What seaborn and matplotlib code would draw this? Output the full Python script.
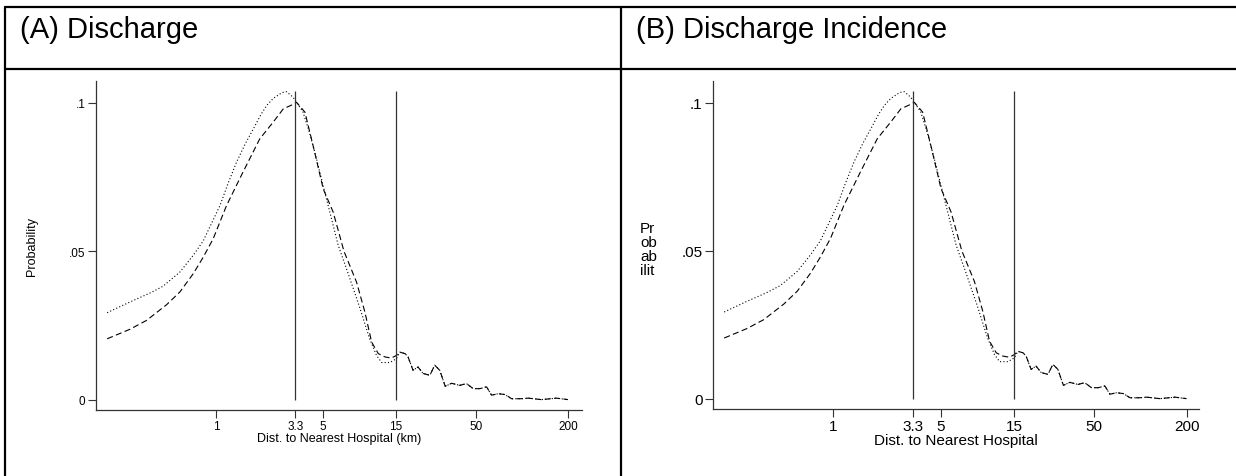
import numpy as np
import pandas as pd
import seaborn as sns
import matplotlib.pyplot as plt
from matplotlib.lines import Line2D

# ---- data (km, probability) ----
dist_dot = [0.194, 0.273, 0.369, 0.449, 0.580, 0.708, 0.824, 1.06, 1.20, 1.36, 1.55, 1.75, 1.96, 2.14, 2.36, 2.61, 2.75, 2.89,
            3.19, 3.36, 3.70, 4.07, 4.54, 5.02, 5.69, 6.29, 7.25, 8.6, 10.1, 11.2, 12.1, 13.7, 15.1]
prob_dot = [0.0293, 0.0329, 0.0359, 0.0382, 0.0430, 0.0486, 0.0535, 0.0654, 0.0730, 0.0800, 0.0862, 0.0912, 0.0960, 0.0991, 0.1015, 0.1030, 0.1036, 0.1038,
            0.1019, 0.1002, 0.0970, 0.0902, 0.0811, 0.0720, 0.0609, 0.0520, 0.0430, 0.0318, 0.0205, 0.0149, 0.0125, 0.0125, 0.0138]

dist_dash = [0.194, 0.273, 0.351, 0.475, 0.580, 0.708, 0.824, 0.957, 1.17, 1.50, 1.93, 2.36, 2.75,
             3.12, 3.36, 3.81, 4.31, 5.02, 5.83, 6.86, 8.29, 9.4, 10.4, 11.5, 12.7, 14.0, 15.1]
prob_dash = [0.0205, 0.0237, 0.0267, 0.0320, 0.0363, 0.0424, 0.0480, 0.0542, 0.0654, 0.0767, 0.0879, 0.0935, 0.0980,
             0.0993, 0.1002, 0.0969, 0.0856, 0.0710, 0.0632, 0.0500, 0.0396, 0.0295, 0.0194, 0.0155, 0.0144, 0.0140, 0.0149]

# both curves run together past 15 km
dist_tail = [15.9, 17.2, 18.0, 19.4, 20.9, 22.6, 25.0, 26.9, 29.0, 31.5, 34.7, 39.2, 43.4, 48.0,
             53.1, 58.7, 63.3, 70, 77.6, 85.6, 99, 110, 134, 168, 200]
prob_tail = [0.0160, 0.0155, 0.0144, 0.0099, 0.0110, 0.0088, 0.0082, 0.0116, 0.0099, 0.0045, 0.0055, 0.0048, 0.0054, 0.0037,
             0.0037, 0.0043, 0.0015, 0.0020, 0.0017, 0.0003, 0.0003, 0.0005, 0.0000, 0.0005, 0.0000]

xticks = [1, 3.3, 5, 15, 50, 200]
xticklabels = ['1', '3.3', '5', '15', '50', '200']
yticks = [0, 0.05, 0.1]
yticklabels = ['0', '.05', '.1']
cutoffs = [3.3, 15]

df = pd.concat([
    pd.DataFrame({'dist': dist_dot + dist_tail, 'prob': prob_dot + prob_tail, 'series': 'dot'}),
    pd.DataFrame({'dist': dist_dash + dist_tail, 'prob': prob_dash + prob_tail, 'series': 'dash'}),
])

sns.set_style('ticks')
plt.rcParams['font.family'] = ['Liberation Sans', 'DejaVu Sans']
plt.rcParams['text.color'] = 'black'
plt.rcParams['axes.labelcolor'] = 'black'

fig = plt.figure(figsize=(12.36, 4.77), dpi=100)
W, H = 1236, 477

def panel(rect, xlim, fs_tick, xlabel, fs_label):
    ax = fig.add_axes([rect[0] / W, 1 - rect[3] / H, (rect[2] - rect[0]) / W, (rect[3] - rect[1]) / H])
    sns.lineplot(data=df, x='dist', y='prob', style='series',
                 dashes={'dot': (1, 2), 'dash': (5.5, 3)}, color='black', lw=0.8,
                 estimator=None, legend=False, ax=ax)
    ax.vlines(cutoffs, 0, 0.104, color='#333333', lw=0.9)
    ax.set_xscale('log')
    ax.set_xlim(*xlim)
    ax.set_ylim(-0.0035, 0.1074)
    ax.set_xticks(xticks)
    ax.set_xticklabels(xticklabels)
    ax.minorticks_off()
    ax.set_yticks(yticks)
    ax.set_yticklabels(yticklabels)
    ax.tick_params(labelsize=fs_tick, length=5.5, width=0.8, color='#333333', labelcolor='black', pad=2)
    for s in ['top', 'right']:
        ax.spines[s].set_visible(False)
    for s in ['left', 'bottom']:
        ax.spines[s].set_color('#333333')
        ax.spines[s].set_linewidth(0.9)
    ax.set_xlabel(xlabel, fontsize=fs_label, labelpad=0)
    return ax

ax1 = panel((96, 82, 582, 411), (0.164, 247), 8.5, 'Dist. to Nearest Hospital (km)', 9)
ax1.set_ylabel('Probability', fontsize=9)
ax1.yaxis.label.set_va('center')
ax1.yaxis.set_label_coords(-0.132, 0.5)

ax2 = panel((713, 82, 1199, 410), (0.164, 241), 11, 'Dist. to Nearest Hospital', 11)
ax2.set_ylabel('Pr\nob\nab\nilit', fontsize=11, rotation=0, ha='left', va='center', linespacing=1.0)
ax2.yaxis.set_label_coords(-0.15, 0.488)

# table-like frame
lw = 1.6
fig.add_artist(Line2D([5 / W, 1], [1 - 8 / H] * 2, color='black', lw=lw, transform=fig.transFigure))
fig.add_artist(Line2D([5 / W, 1], [1 - 70 / H] * 2, color='black', lw=lw, transform=fig.transFigure))
fig.add_artist(Line2D([5 / W] * 2, [0, 1 - 8 / H], color='black', lw=lw, transform=fig.transFigure))
fig.add_artist(Line2D([621 / W] * 2, [0, 1 - 8 / H], color='black', lw=lw, transform=fig.transFigure))

fig.text(20 / W, 1 - 30 / H, '(A) Discharge', fontsize=21, va='center')
fig.text(636 / W, 1 - 30 / H, '(B) Discharge Incidence', fontsize=21, va='center')

fig.savefig('out.png', dpi=100)
